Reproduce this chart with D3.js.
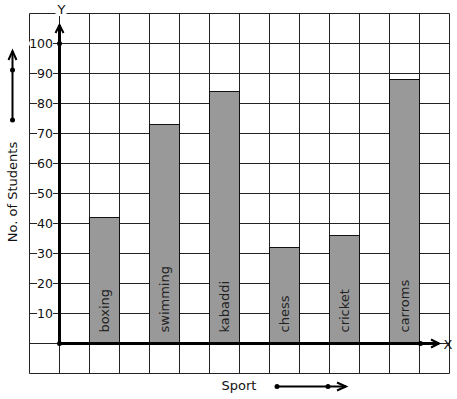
<!DOCTYPE html>
<html>
<head>
<meta charset="utf-8">
<script src="https://cdn.jsdelivr.net/npm/d3@7"></script>
<style>
  html, body { margin: 0; padding: 0; background: #fff; }
  text { font-family: "DejaVu Sans", sans-serif; }
</style>
</head>
<body>
<div id="canvas"></div>
<script>
var sports = ["boxing", "swimming", "kabaddi", "chess", "cricket", "carroms"];
var students = [42, 73, 84, 32, 36, 88];
var yTicks = [10, 20, 30, 40, 50, 60, 70, 80, 90, 100];

var width = 457, height = 399;
var svg = d3.select("#canvas").append("svg").attr("width", width).attr("height", height);

// one grid unit = 30px, x unit 1 per cell, y unit 10 per cell
var x = d3.scaleLinear().domain([-1, 13]).range([29.5, 449.5]);
var y = d3.scaleLinear().domain([-10, 110]).range([373.5, 13.5]);

// grid
var grid = svg.append("g");
d3.range(-1, 14).forEach(function(i) {
	grid.append("line").attr("x1", x(i)).attr("x2", x(i))
		.attr("y1", y(110)).attr("y2", y(-10))
		.attr("stroke", "#222").attr("stroke-width", 1);
});
d3.range(-10, 111, 10).forEach(function(v) {
	grid.append("line").attr("x1", x(-1)).attr("x2", x(13))
		.attr("y1", y(v)).attr("y2", y(v))
		.attr("stroke", "#222").attr("stroke-width", 1);
});

// bars
svg.selectAll("rect.bar").data(sports).enter().append("rect")
	.attr("class", "bar")
	.attr("x", function(d, i) { return x(i * 2 + 1); })
	.attr("width", x(1) - x(0))
	.attr("y", function(d, i) { return y(students[i]); })
	.attr("height", function(d, i) { return y(0) - y(students[i]); })
	.attr("fill", "#999999")
	.attr("stroke", "#111")
	.attr("stroke-width", 1);

// bar labels
svg.selectAll("text.lbl").data(sports).enter().append("text")
	.attr("class", "lbl")
	.attr("transform", function(d, i) {
		return "translate(" + (x(i * 2 + 1.5) + 4.5) + "," + (y(0) - 11) + ") rotate(-90)";
	})
	.text(function(d) { return d; })
	.attr("fill", "#222")
	.style("font-size", "13px");

// y tick labels with white background over grid line
yTicks.forEach(function(v) {
	var t = svg.append("text").attr("x", 53).attr("y", y(v) + 4.5)
		.attr("text-anchor", "end").text(v)
		.attr("fill", "#111").style("font-size", "12.5px");
	var b = t.node().getBBox();
	svg.insert("rect", function() { return t.node(); })
		.attr("x", b.x).attr("y", y(v) - 2).attr("width", b.width).attr("height", 4)
		.attr("fill", "#fff");
});

// axes
var ax = svg.append("g").attr("stroke", "#000").attr("fill", "none");
ax.append("line").attr("x1", x(0)).attr("x2", x(0)).attr("y1", y(0)).attr("y2", 25)
	.attr("stroke-width", 3);
ax.append("path").attr("d", "M55.5,33 L59.5,25 L63.5,33").attr("stroke-width", 2);
ax.append("line").attr("x1", x(0)).attr("x2", 439).attr("y1", y(0)).attr("y2", y(0))
	.attr("stroke-width", 3);
ax.append("path").attr("d", "M431," + (y(0) - 4) + " L439," + y(0) + " L431," + (y(0) + 4))
	.attr("stroke-width", 2);

var dots = [[x(0), y(0)], [x(0), y(100)], [x(13) - 29, y(0)]];
svg.selectAll("circle.dot").data(dots).enter().append("circle")
	.attr("cx", function(d) { return d[0]; }).attr("cy", function(d) { return d[1]; })
	.attr("r", 2.5).attr("fill", "#000");

// axis letters
var yl = svg.append("text").attr("x", x(0) + 2).attr("y", 14).attr("text-anchor", "middle")
	.text("Y").style("font-size", "13px").attr("fill", "#111");
var yb = yl.node().getBBox();
svg.insert("rect", function() { return yl.node(); })
	.attr("x", yb.x - 1).attr("y", 11).attr("width", yb.width + 2).attr("height", 5).attr("fill", "#fff");
svg.append("text").attr("x", 448).attr("y", y(0) + 5).attr("text-anchor", "middle")
	.text("X").style("font-size", "13px").attr("fill", "#111");

// axis titles
svg.append("text").attr("transform", "translate(17,192) rotate(-90)")
	.attr("text-anchor", "middle").text("No. of Students")
	.style("font-size", "13px").attr("fill", "#111");
svg.append("text").attr("x", 239).attr("y", 390).attr("text-anchor", "middle")
	.text("Sport").style("font-size", "13px").attr("fill", "#111");

// direction arrows beside titles
var da = svg.append("g").attr("stroke", "#000").attr("fill", "none");
da.append("line").attr("x1", 12.5).attr("x2", 12.5).attr("y1", 120).attr("y2", 51).attr("stroke-width", 2);
da.append("path").attr("d", "M8.5,60 L12.5,51 L16.5,60").attr("stroke-width", 2);
da.append("line").attr("x1", 277).attr("x2", 346).attr("y1", 386.5).attr("y2", 386.5).attr("stroke-width", 2);
da.append("path").attr("d", "M337,382.5 L346,386.5 L337,390.5").attr("stroke-width", 2);
var ad = [[12.5, 120], [12.5, 70], [277, 386.5], [328, 386.5]];
svg.selectAll("circle.ad").data(ad).enter().append("circle")
	.attr("cx", function(d) { return d[0]; }).attr("cy", function(d) { return d[1]; })
	.attr("r", 2.5).attr("fill", "#000");
</script>
</body>
</html>
